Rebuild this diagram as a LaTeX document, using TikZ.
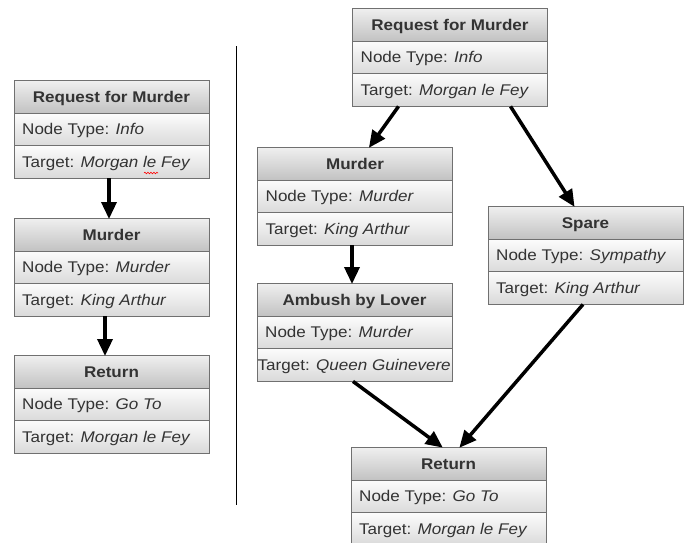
\documentclass[tikz,border=0pt]{standalone}
\usepackage{fontspec}
\setmainfont{Liberation Sans}[FakeStretch=1.1]
\usetikzlibrary{arrows.meta,calc,decorations.pathmorphing}
\definecolor{hdrtop}{HTML}{F0F0F0}
\definecolor{hdrbot}{HTML}{C2C2C2}
\definecolor{rowtop}{HTML}{FCFCFC}
\definecolor{rowbot}{HTML}{DADADA}
\definecolor{bordc}{HTML}{707070}
\definecolor{txtc}{HTML}{333333}
\tikzset{
  hdrrow/.style={top color=hdrtop,bottom color=hdrbot,draw=bordc,line width=0.9pt},
  bodyrow/.style={top color=rowtop,bottom color=rowbot,draw=bordc,line width=0.9pt},
  boxframe/.style={draw=none,minimum width=195pt,minimum height=98pt,inner sep=0pt,anchor=north west},
  titletext/.style={font=\fontsize{15.5}{18}\selectfont\bfseries,text=txtc,anchor=base,inner sep=0pt},
  rowtext/.style={font=\fontsize{15.5}{18}\selectfont,text=txtc,anchor=base west,inner sep=0pt},
  flow/.style={line width=3.5pt,-{Triangle[length=17pt,width=15pt]},shorten >=-1pt},
}
\newcommand\storybox[7]{% name, left, top, title, type, target, target x-offset
  \shade[hdrrow] (#2,#3) rectangle ++(195,33);
  \shade[bodyrow] (#2,#3+33) rectangle ++(195,32.5);
  \shade[bodyrow] (#2,#3+65.5) rectangle ++(195,32.5);
  \node[boxframe] (#1) at (#2,#3) {};
  \node[titletext] (#1-title) at (#2+97.5,#3+22) {#4};
  \node[rowtext] (#1-type) at (#2+8,#3+54.5) {Node Type: \textit{#5}};
  \begin{scope}
    \clip (#2,#3+65.5) rectangle ++(195,32.5);
    \node[rowtext] (#1-target) at (#2+#7,#3+87) {Target: \textit{#6}};
  \end{scope}
}
\begin{document}
\begin{tikzpicture}[x=1pt,y=-1pt]
\useasboundingbox (0,0) rectangle (686,542);
\fill[white] (0,0) rectangle (686,542);
% left column
\storybox{lreq}{14}{80}{Request for Murder}{Info}{Morgan le Fey}{8}
\storybox{lmur}{14}{218}{Murder}{Murder}{King Arthur}{8}
\storybox{lret}{14}{355}{Return}{Go To}{Morgan le Fey}{8}
\draw[red,line width=0.6pt,decorate,decoration={snake,amplitude=0.8pt,segment length=3pt}]
  (144,173) -- (158,173);
\draw[flow] (lreq.south west)++(95,0) coordinate (a1) -- ($(lmur.north west)+(95,0)$);
\draw[flow] ($(lmur.south west)+(91,0)$) -- ($(lret.north west)+(91,0)$);
% divider
\coordinate (d1) at (236,46);
\coordinate (d2) at (236,505);
\draw[line width=1pt] (d1) -- (d2);
% right graph
\storybox{rreq}{352.5}{8}{Request for Murder}{Info}{Morgan le Fey}{8}
\storybox{rmur}{257.5}{147}{Murder}{Murder}{King Arthur}{8}
\storybox{rspa}{488}{206}{Spare}{Sympathy}{King Arthur}{8}
\storybox{ramb}{257}{283}{Ambush by Lover}{Murder}{Queen Guinevere}{0.5}
\storybox{rret}{351}{447}{Return}{Go To}{Morgan le Fey}{8}
\draw[flow] ($(rreq.south west)+(46,0)$) -- ($(rmur.north west)+(112,0)$);
\draw[flow] ($(rreq.south west)+(158,0)$) -- ($(rspa.north west)+(86,0)$);
\draw[flow] ($(rmur.south west)+(94.5,0)$) -- ($(ramb.north west)+(95,0)$);
\draw[flow] ($(ramb.south west)+(96,0)$) -- ($(rret.north west)+(91,0)$);
\draw[flow] ($(rspa.south west)+(95,0)$) -- ($(rret.north west)+(109,0)$);
\end{tikzpicture}
\end{document}
